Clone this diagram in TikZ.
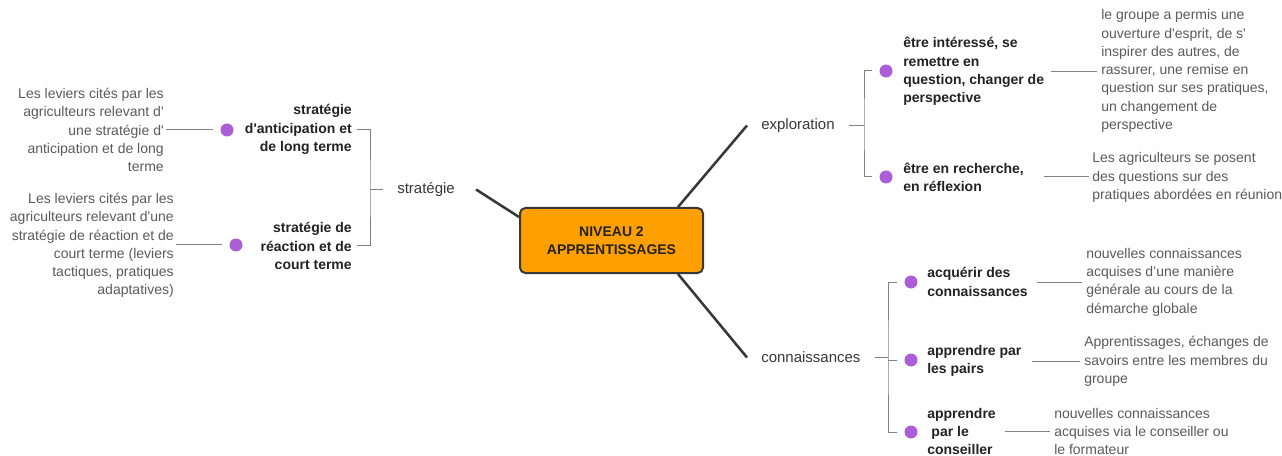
\documentclass[tikz,border=0pt]{standalone}
\usepackage{fontspec}
\setmainfont{Liberation Sans}
\usetikzlibrary{positioning,calc}
\definecolor{maporange}{RGB}{255,160,0}
\definecolor{mappurple}{RGB}{170,95,214}
\definecolor{mapgray}{RGB}{90,90,90}
\definecolor{mapdark}{RGB}{34,34,34}
\definecolor{mapline}{RGB}{130,130,130}
\newcommand{\ap}{\textquotesingle}

\begin{document}
\begin{tikzpicture}[x=0.75pt,y=-0.75pt,
    trunk/.style={draw=mapdark!90,line width=1.9pt},
    twig/.style={draw=mapline,line width=0.75pt},
    branch/.style={font=\fontsize{11.25}{13.7}\selectfont,text=mapdark!90,inner xsep=10.5pt,inner ysep=0pt},
    idea/.style={font=\bfseries\fontsize{10.5}{13.7}\selectfont,text=mapdark,inner sep=0pt},
    note/.style={font=\fontsize{10.5}{13.7}\selectfont,text=mapgray,inner sep=0pt},
    bullet/.style={circle,fill=mappurple,minimum size=9.75pt,inner sep=0pt}]
    \useasboundingbox (0,0) rectangle (1282,456);
    \node[draw=mapdark!90,line width=1.5pt,fill=maporange,rounded corners=4pt,minimum width=137.25pt,minimum height=48.75pt,align=center,font=\bfseries\fontsize{10.5}{13.7}\selectfont,text=mapdark] (box) at (611.5,240.5) {NIVEAU 2\\APPRENTISSAGES};
    \node[branch,anchor=west] (expl) at (747,125.5) {exploration};
    \node[branch,anchor=west] (conn) at (747,357.5) {connaissances};
    \node[branch,anchor=west] (strat) at (383,189.5) {stratégie};
    \draw[trunk] ($(box.north east)+(-26,0)$) -- (expl.west);
    \draw[trunk] ($(box.south east)+(-26,0)$) -- (conn.west);
    \draw[trunk] ($(box.north west)+(0,10)$) -- ($(strat.east)+(7,0)$);

    \coordinate (ej) at (864,125.5);
    \node[bullet] (b1) at (886,71) {};
    \node[bullet] (b2) at (886,177) {};
    \node[idea,anchor=west,align=left] (i1) at (903,71.5) {être intéressé, se\\remettre en\\question, changer de\\perspective};
    \node[idea,anchor=west,align=left] (i2) at (903,177) {être en recherche,\\en réflexion};
    \node[note,anchor=west,align=left] (n1) at (1101,71) {le groupe a permis une\\ouverture d\ap esprit, de s\ap\\inspirer des autres, de\\rassurer, une remise en\\question sur ses pratiques,\\un changement de\\perspective};
    \node[note,anchor=west,align=left] (n2) at (1092,177.5) {Les agriculteurs se posent\\des questions sur des\\pratiques abordées en réunion};
    \draw[twig] (expl.east) -- (ej);
    \draw[twig,shorten <=5.6pt,shorten >=5.6pt] (b1.west) -| (ej) |- (b2.west);
    \draw[twig,shorten <=5pt,shorten >=3pt] (i1.east) -- (i1.east -| n1.west);
    \draw[twig,shorten <=15pt,shorten >=2pt] (i2.east) -- (i2.east -| n2.west);

    \coordinate (cj) at (888,357.5);
    \node[bullet] (c1) at (911,282) {};
    \node[bullet] (c2) at (911,360) {};
    \node[bullet] (c3) at (911,432) {};
    \node[idea,anchor=west,align=left] (i3) at (927,282) {acquérir des\\connaissances};
    \node[idea,anchor=west,align=left] (i4) at (927,361) {apprendre par\\les pairs};
    \node[idea,anchor=west,align=left] (i5) at (927,431.5) {apprendre\\\hspace*{0.3em}par le\\conseiller};
    \node[note,anchor=west,align=left] (n3) at (1086,282) {nouvelles connaissances\\acquises d’une manière\\générale au cours de la\\démarche globale};
    \node[note,anchor=west,align=left] (n4) at (1084,361.5) {Apprentissages, échanges de\\savoirs entre les membres du\\groupe};
    \node[note,anchor=west,align=left] (n5) at (1054,431.5) {nouvelles connaissances\\acquises via le conseiller ou\\le formateur};
    \draw[twig] (conn.east) -- (cj);
    \draw[twig,shorten <=5.6pt,shorten >=5.6pt] (c1.west) -| (cj) |- (c3.west);
    \draw[twig,shorten >=5.6pt] (cj |- c2.west) -- (c2.west);
    \draw[twig,shorten <=7pt,shorten >=3pt] (i3.east) -- (i3.east -| n3.west);
    \draw[twig,shorten <=8pt,shorten >=3pt] (i4.east) -- (i4.east -| n4.west);
    \draw[twig,shorten <=7pt,shorten >=3pt] (i5.east) -- (i5.east -| n5.west);

    \coordinate (sj) at (370,189.5);
    \node[idea,anchor=east,align=right] (s1) at (352,129.5) {stratégie\\d\ap anticipation et\\de long terme};
    \node[idea,anchor=east,align=right] (s2) at (352,246) {stratégie de\\réaction et de\\court terme};
    \node[bullet] (sb1) at (227,130) {};
    \node[bullet] (sb2) at (236,245) {};
    \node[note,anchor=east,align=right] (ln1) at (164,130) {Les leviers cités par les\\agriculteurs relevant d\ap\\une stratégie d\ap\\anticipation et de long\\terme};
    \node[note,anchor=east,align=right] (ln2) at (174,245.5) {Les leviers cités par les\\agriculteurs relevant d\ap une\\stratégie de réaction et de\\court terme (leviers\\tactiques, pratiques\\adaptatives)};
    \draw[twig] (strat.west) -- (sj);
    \draw[twig,shorten <=3.75pt,shorten >=3.75pt] (s1.east) -| (sj) |- (s2.east);
    \draw[twig,shorten <=5.6pt,shorten >=1.5pt] (sb1.west) -- (sb1.west -| ln1.east);
    \draw[twig,shorten <=5.6pt,shorten >=1.5pt] (sb2.west) -- (sb2.west -| ln2.east);
\end{tikzpicture}
\end{document}
